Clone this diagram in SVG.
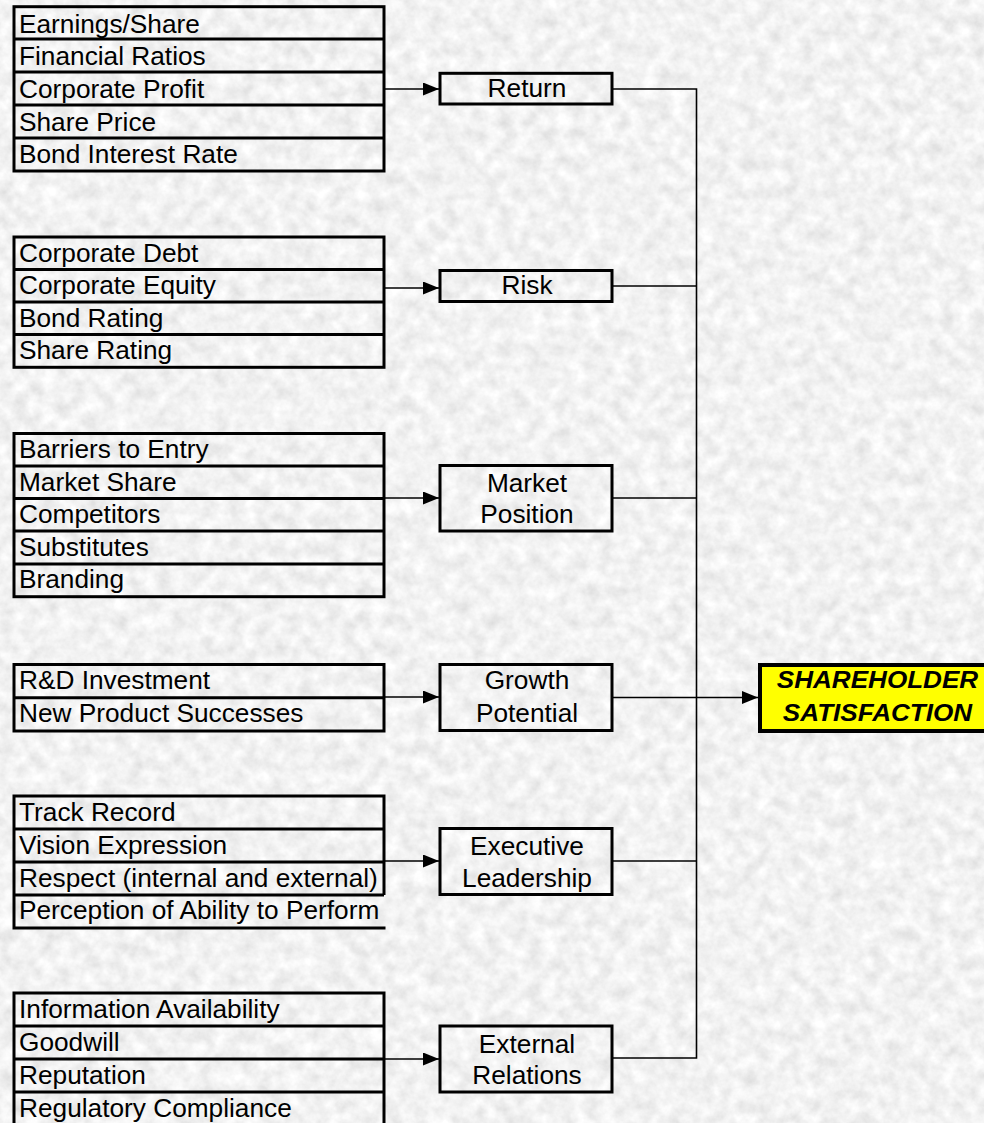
<svg xmlns="http://www.w3.org/2000/svg" width="984" height="1123" viewBox="0 0 984 1123">
  <defs>
    <filter id="granite" x="0" y="0" width="100%" height="100%" filterUnits="userSpaceOnUse">
      <feTurbulence type="fractalNoise" baseFrequency="0.07" numOctaves="4" seed="7" result="n"/>
      <feColorMatrix in="n" type="matrix" values="0.36 0 0 0 0.71  0.36 0 0 0 0.71  0.36 0 0 0 0.71  0 0 0 0 1"/>
    </filter>
    <marker id="arrow" viewBox="0 0 16 13" refX="16" refY="6.5" markerWidth="16" markerHeight="13" markerUnits="userSpaceOnUse" orient="auto">
      <path d="M0,0 L16,6.5 L0,13 Z" fill="#000"/>
    </marker>
    <style>
      .box { fill: none; stroke: #000; stroke-width: 3; }
      .sep { stroke: #000; stroke-width: 3; }
      .wire { fill: none; stroke: #000; stroke-width: 1.6; }
      .arr { fill: none; stroke: #000; stroke-width: 1.6; marker-end: url(#arrow); }
      .t { font-family: "Liberation Sans", Arial, sans-serif; font-size: 25px; fill: #000; }
      .c { text-anchor: middle; }
      .goal { fill: #ffff00; stroke: #000; stroke-width: 4; }
      .gt { font-family: "Liberation Sans", Arial, sans-serif; font-size: 23.5px; font-weight: bold; font-style: italic; text-anchor: middle; fill: #000; }
    </style>
  </defs>

  <!-- textured backdrop -->
  <rect x="0" y="0" width="984" height="1123" fill="#e2e2e2"/>
  <rect x="0" y="0" width="984" height="1123" filter="url(#granite)"/>

  <!-- connectors -->
  <g id="connectors">
    <line class="arr" x1="384" y1="89" x2="439" y2="89"/>
    <line class="arr" x1="384" y1="288" x2="439" y2="288"/>
    <line class="arr" x1="384" y1="498" x2="439" y2="498"/>
    <line class="arr" x1="384" y1="697" x2="439" y2="697"/>
    <line class="arr" x1="384" y1="861" x2="439" y2="861"/>
    <line class="arr" x1="384" y1="1059" x2="439" y2="1059"/>
    <polyline class="wire" points="612,89 696.5,89 696.5,1058 612,1058"/>
    <line class="wire" x1="612" y1="286" x2="696.5" y2="286"/>
    <line class="wire" x1="612" y1="498" x2="696.5" y2="498"/>
    <line class="wire" x1="612" y1="861" x2="696.5" y2="861"/>
    <line class="arr" x1="612" y1="697.5" x2="758" y2="697.5"/>
  </g>

  <!-- return indicators -->
  <g id="list-return">
    <rect class="box" x="14" y="6.7" width="370" height="164.3"/>
    <line class="sep" x1="14" y1="39" x2="384" y2="39"/>
    <line class="sep" x1="14" y1="72" x2="384" y2="72"/>
    <line class="sep" x1="14" y1="105" x2="384" y2="105"/>
    <line class="sep" x1="14" y1="138" x2="384" y2="138"/>
    <text class="t" transform="translate(19 32.7) scale(1.05 1)">Earnings/Share</text>
    <text class="t" transform="translate(19 65) scale(1.05 1)">Financial Ratios</text>
    <text class="t" transform="translate(19 97.7) scale(1.05 1)">Corporate Profit</text>
    <text class="t" transform="translate(19 130.7) scale(1.05 1)">Share Price</text>
    <text class="t" transform="translate(19 163.3) scale(1.05 1)">Bond Interest Rate</text>
  </g>

  <!-- risk indicators -->
  <g id="list-risk">
    <rect class="box" x="14" y="237" width="370" height="130.3"/>
    <line class="sep" x1="14" y1="269.5" x2="384" y2="269.5"/>
    <line class="sep" x1="14" y1="302" x2="384" y2="302"/>
    <line class="sep" x1="14" y1="334.5" x2="384" y2="334.5"/>
    <text class="t" transform="translate(19 261.5) scale(1.05 1)">Corporate Debt</text>
    <text class="t" transform="translate(19 294) scale(1.05 1)">Corporate Equity</text>
    <text class="t" transform="translate(19 326.7) scale(1.05 1)">Bond Rating</text>
    <text class="t" transform="translate(19 359.3) scale(1.05 1)">Share Rating</text>
  </g>

  <!-- market position indicators -->
  <g id="list-market">
    <rect class="box" x="14" y="433.5" width="370" height="163.2"/>
    <line class="sep" x1="14" y1="466" x2="384" y2="466"/>
    <line class="sep" x1="14" y1="498.5" x2="384" y2="498.5"/>
    <line class="sep" x1="14" y1="531" x2="384" y2="531"/>
    <line class="sep" x1="14" y1="564" x2="384" y2="564"/>
    <text class="t" transform="translate(19 458.3) scale(1.05 1)">Barriers to Entry</text>
    <text class="t" transform="translate(19 491) scale(1.05 1)">Market Share</text>
    <text class="t" transform="translate(19 523.3) scale(1.05 1)">Competitors</text>
    <text class="t" transform="translate(19 556) scale(1.05 1)">Substitutes</text>
    <text class="t" transform="translate(19 588.3) scale(1.05 1)">Branding</text>
  </g>

  <!-- growth indicators -->
  <g id="list-growth">
    <rect class="box" x="14" y="664.5" width="370" height="66.5"/>
    <line class="sep" x1="14" y1="697.7" x2="384" y2="697.7"/>
    <text class="t" transform="translate(19 689.3) scale(1.05 1)">R&amp;D Investment</text>
    <text class="t" transform="translate(19 721.7) scale(1.05 1)">New Product Successes</text>
  </g>

  <!-- leadership indicators (last row open on the right) -->
  <g id="list-leadership">
    <polyline class="box" points="384,895 384,796 14,796 14,928 385.5,928"/>
    <line class="sep" x1="14" y1="829" x2="384" y2="829"/>
    <line class="sep" x1="14" y1="862" x2="384" y2="862"/>
    <line class="sep" x1="14" y1="895" x2="384" y2="895"/>
    <text class="t" transform="translate(19 821) scale(1.05 1)">Track Record</text>
    <text class="t" transform="translate(19 854) scale(1.05 1)">Vision Expression</text>
    <text class="t" transform="translate(19 886.7) scale(1.05 1)">Respect (internal and external)</text>
    <text class="t" transform="translate(19 919.3) scale(1.05 1)">Perception of Ability to Perform</text>
  </g>

  <!-- external relations indicators -->
  <g id="list-external">
    <rect class="box" x="14" y="993" width="370" height="132"/>
    <line class="sep" x1="14" y1="1026" x2="384" y2="1026"/>
    <line class="sep" x1="14" y1="1059" x2="384" y2="1059"/>
    <line class="sep" x1="14" y1="1092" x2="384" y2="1092"/>
    <text class="t" transform="translate(19 1018.3) scale(1.05 1)">Information Availability</text>
    <text class="t" transform="translate(19 1050.7) scale(1.05 1)">Goodwill</text>
    <text class="t" transform="translate(19 1084) scale(1.05 1)">Reputation</text>
    <text class="t" transform="translate(19 1116.7) scale(1.05 1)">Regulatory Compliance</text>
  </g>

  <!-- factor boxes -->
  <g id="return">
    <rect class="box" x="440" y="73.3" width="172" height="30.7"/>
    <text class="t c" transform="translate(527 97.3) scale(1.05 1)">Return</text>
  </g>
  <g id="risk">
    <rect class="box" x="440" y="270.5" width="172" height="31"/>
    <text class="t c" transform="translate(527 294.3) scale(1.05 1)">Risk</text>
  </g>
  <g id="market-position">
    <rect class="box" x="440" y="465.5" width="172" height="65.5"/>
    <text class="t c" transform="translate(527 491.7) scale(1.05 1)">Market</text>
    <text class="t c" transform="translate(527 523) scale(1.05 1)">Position</text>
  </g>
  <g id="growth-potential">
    <rect class="box" x="440" y="664.5" width="172" height="66"/>
    <text class="t c" transform="translate(527 689.3) scale(1.05 1)">Growth</text>
    <text class="t c" transform="translate(527 721.7) scale(1.05 1)">Potential</text>
  </g>
  <g id="executive-leadership">
    <rect class="box" x="440" y="828.5" width="172" height="66"/>
    <text class="t c" transform="translate(527 855) scale(1.05 1)">Executive</text>
    <text class="t c" transform="translate(527 886.5) scale(1.05 1)">Leadership</text>
  </g>
  <g id="external-relations">
    <rect class="box" x="440" y="1026" width="172" height="66"/>
    <text class="t c" transform="translate(527 1052.7) scale(1.05 1)">External</text>
    <text class="t c" transform="translate(527 1084) scale(1.05 1)">Relations</text>
  </g>

  <!-- overall goal -->
  <g id="shareholder-satisfaction">
    <rect class="goal" x="760" y="665" width="240" height="66"/>
    <text class="gt" transform="translate(877.5 687.7) scale(1.11 1)">SHAREHOLDER</text>
    <text class="gt" transform="translate(877.5 721) scale(1.11 1)">SATISFACTION</text>
  </g>
</svg>
